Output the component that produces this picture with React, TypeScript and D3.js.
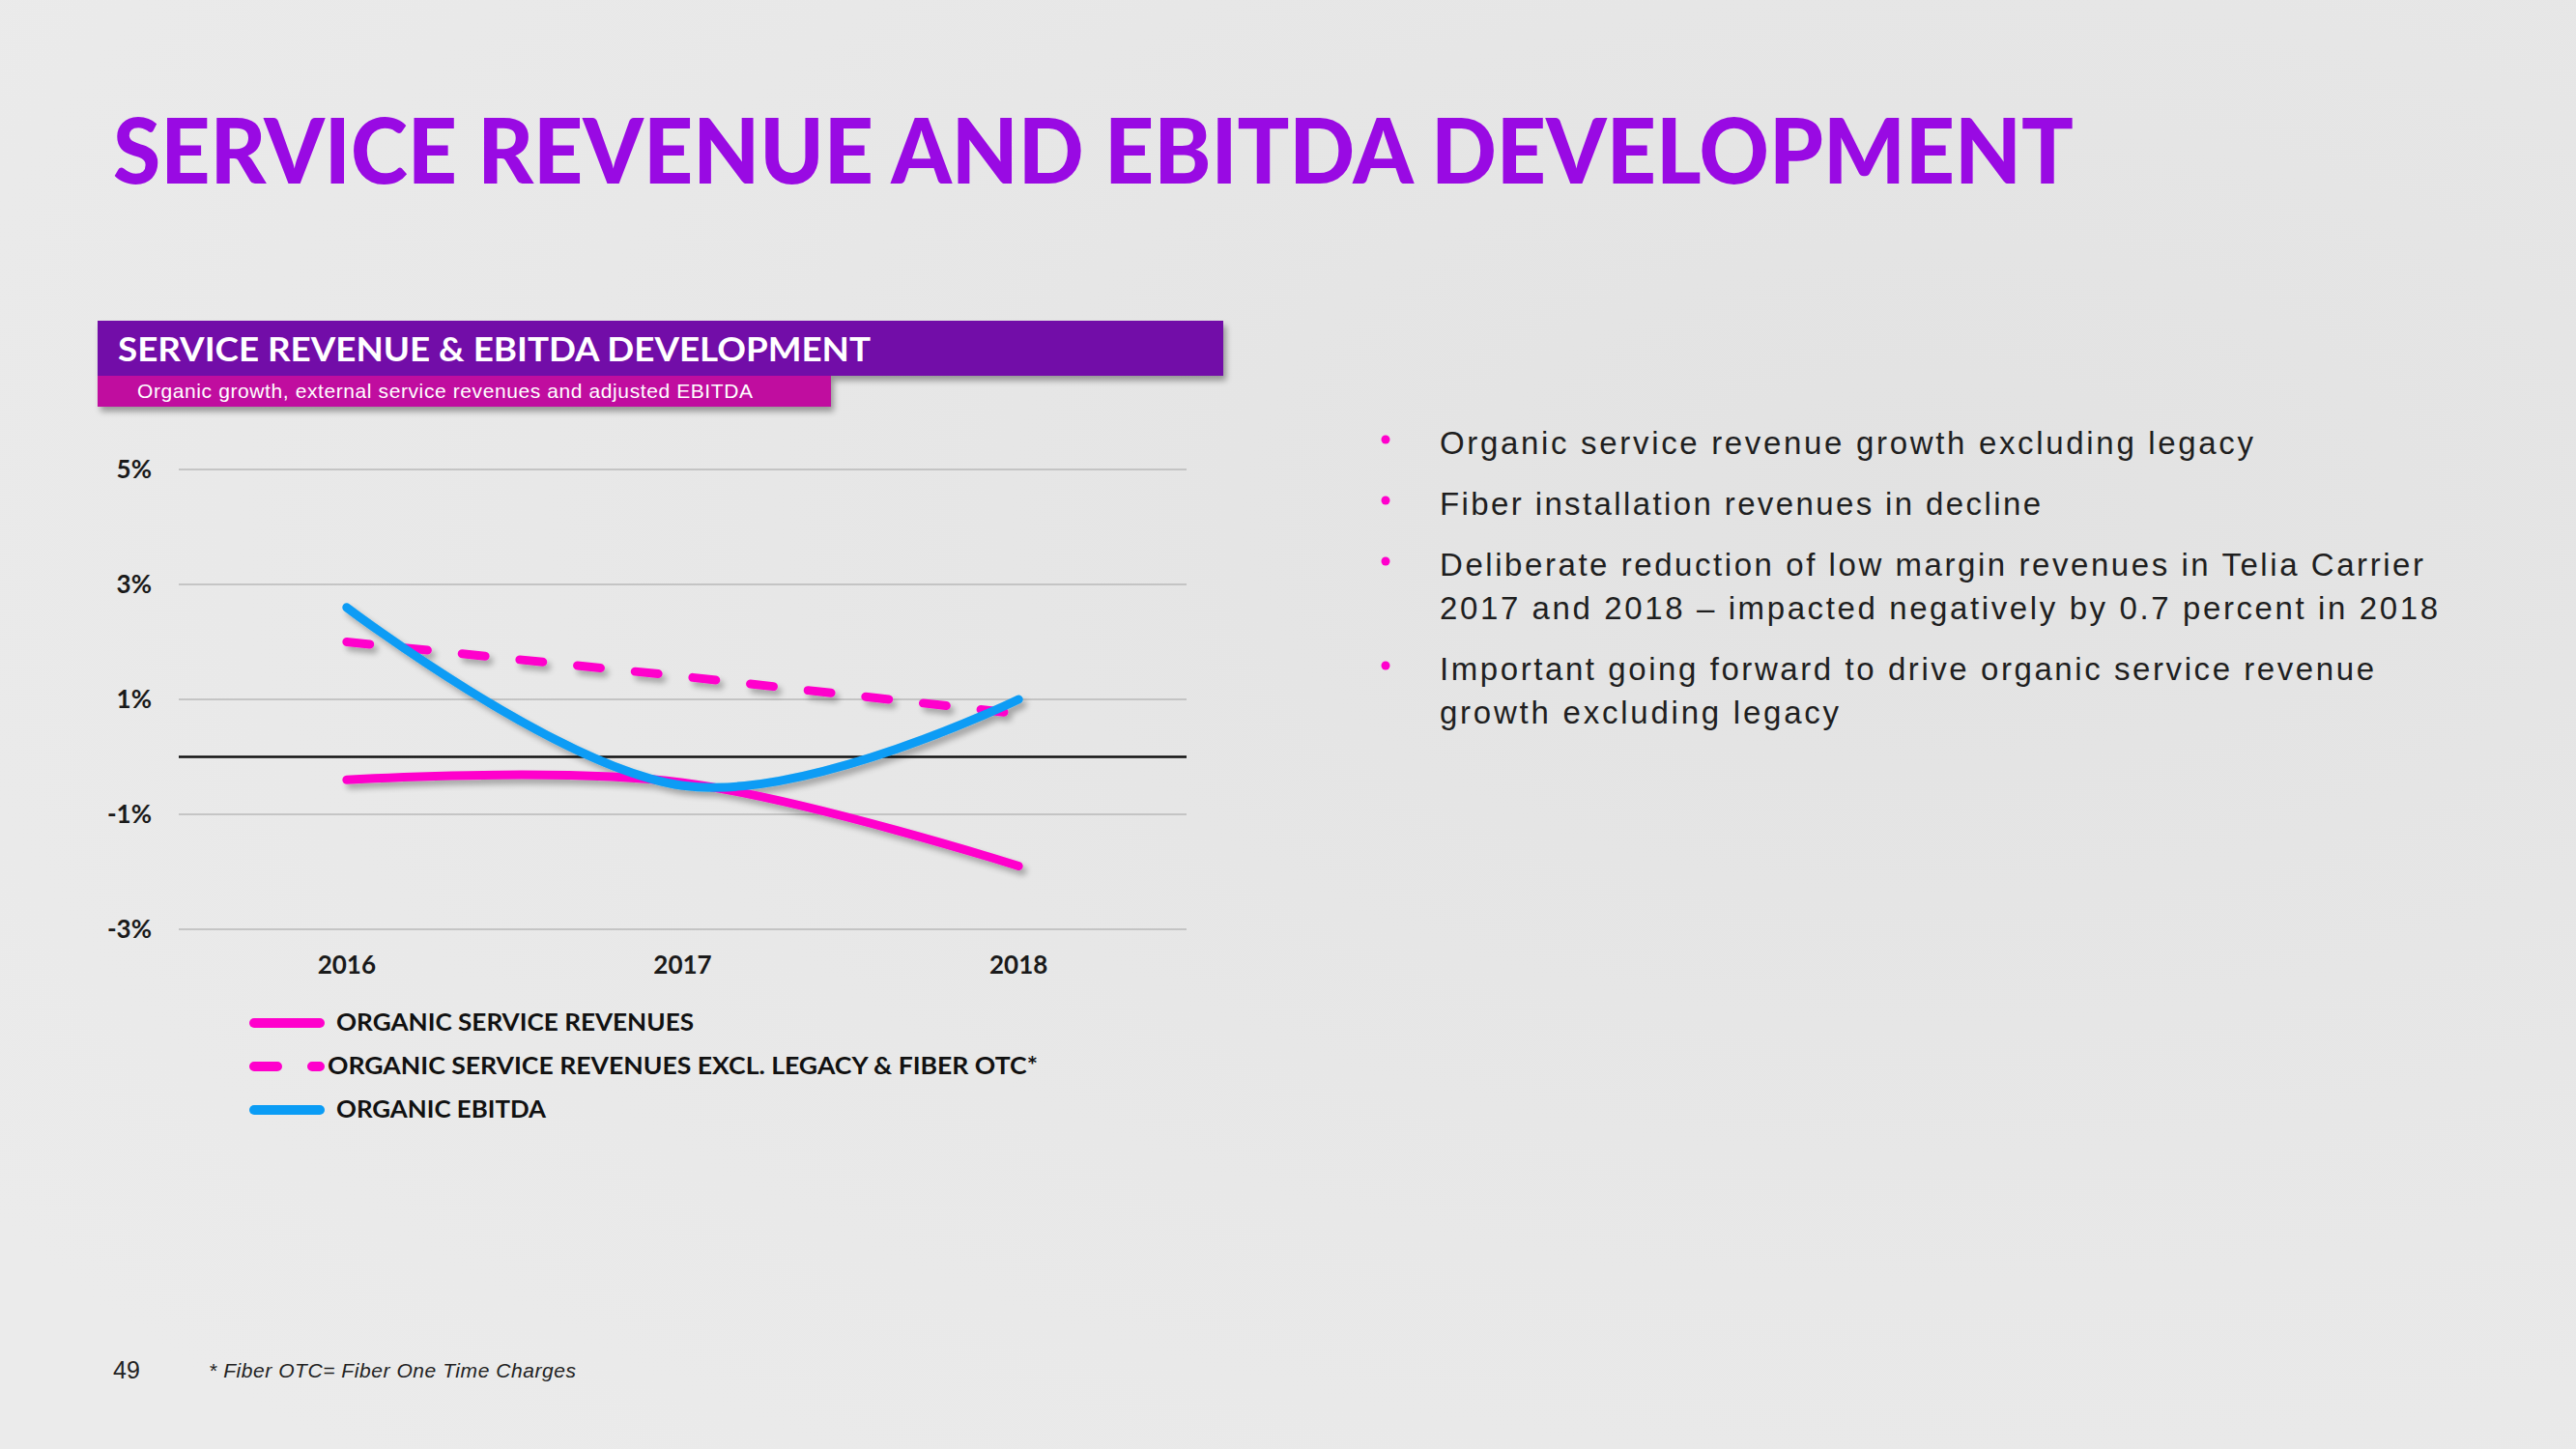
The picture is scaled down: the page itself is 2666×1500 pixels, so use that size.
import React from "react";
import * as d3 from "d3";

const W = 2666;
const H = 1500;

const years = ["2016", "2017", "2018"];
const organicServiceRevenues = [-0.4, -0.45, -1.9];
const organicExclLegacyFiber = [2.0, 1.4, 0.75];
const organicEbitda = [2.6, -0.5, 1.0];
const yTicks = [5, 3, 1, -1, -3];

const titleText = "SERVICE REVENUE AND EBITDA DEVELOPMENT";
const chartTitle = "SERVICE REVENUE & EBITDA DEVELOPMENT";
const chartSubtitle = "Organic growth, external service revenues and adjusted EBITDA";

const legendLabels = [
  "ORGANIC SERVICE REVENUES",
  "ORGANIC SERVICE REVENUES EXCL. LEGACY & FIBER OTC*",
  "ORGANIC EBITDA",
];

const bullets = [
  ["Organic service revenue growth excluding legacy"],
  ["Fiber installation revenues in decline"],
  [
    "Deliberate reduction of low margin revenues in Telia Carrier",
    "2017 and 2018 \u2013 impacted negatively by 0.7 percent in 2018",
  ],
  ["Important going forward to drive organic service revenue", "growth excluding legacy"],
];
const bulletWidths = [[842], [622], [1018, 1033], [967, 413]];

const pageNumber = "49";
const footnote = "* Fiber OTC= Fiber One Time Charges";

const MAGENTA = "#FF00CC";
const BLUE = "#0A9CF5";

export default function App() {
  const x = d3.scaleBand<string>().domain(years).range([185, 1228]).padding(0);
  const y = d3.scaleLinear().domain([-3, 5]).range([962, 486]);
  const cx = (d: string) => (x(d) as number) + x.bandwidth() / 2;

  const line = d3
    .line<number>()
    .x((_, i) => cx(years[i]))
    .y((v) => y(v))
    .curve(d3.curveCardinal.tension(-0.1));
  const straight = d3
    .line<number>()
    .x((_, i) => cx(years[i]))
    .y((v) => y(v));

  const series = [
    { values: organicServiceRevenues, color: MAGENTA, dash: undefined, gen: line },
    { values: organicExclLegacyFiber, color: MAGENTA, dash: "24 36", gen: straight },
    { values: organicEbitda, color: BLUE, dash: undefined, gen: line },
  ];

  const legendRows = [
    { label: legendLabels[0], color: MAGENTA, dash: undefined, y: 1059, tx: 348, w: 370 },
    { label: legendLabels[1], color: MAGENTA, dash: "24 36", y: 1104, tx: 339, w: 735 },
    { label: legendLabels[2], color: BLUE, dash: undefined, y: 1149, tx: 348, w: 217 },
  ];

  let bl = 470;
  const bulletLines: { text: string; y: number; w: number; first: boolean }[] = [];
  bullets.forEach((b, bi) => {
    b.forEach((t, li) => {
      bulletLines.push({ text: t, y: bl, w: bulletWidths[bi][li], first: li === 0 });
      bl += li < b.length - 1 ? 45 : 63;
    });
  });

  const sans = "Lato, 'Open Sans', 'Liberation Sans', sans-serif";
  const narrow = "'Liberation Sans Narrow', 'Liberation Sans', Arial, sans-serif";

  return (
    <svg
      width={W}
      height={H}
      viewBox={`0 0 ${W} ${H}`}
      style={{ position: "absolute", left: 0, top: 0, display: "block" }}
    >
      <defs>
        <radialGradient id="bg" cx="0.75" cy="0.35" r="0.9">
          <stop offset="0" stopColor="#e2e2e2" />
          <stop offset="0.6" stopColor="#e8e8e8" />
          <stop offset="1" stopColor="#ebebeb" />
        </radialGradient>
        <filter id="shadow" x="-10%" y="-20%" width="130%" height="160%">
          <feGaussianBlur in="SourceAlpha" stdDeviation="3" />
          <feOffset dx="4" dy="5" result="b" />
          <feComponentTransfer>
            <feFuncA type="linear" slope="0.3" />
          </feComponentTransfer>
          <feMerge>
            <feMergeNode />
            <feMergeNode in="SourceGraphic" />
          </feMerge>
        </filter>
        <filter id="barShadow" x="-5%" y="-20%" width="110%" height="160%">
          <feGaussianBlur in="SourceAlpha" stdDeviation="3" />
          <feOffset dx="3" dy="5" />
          <feComponentTransfer>
            <feFuncA type="linear" slope="0.35" />
          </feComponentTransfer>
          <feMerge>
            <feMergeNode />
            <feMergeNode in="SourceGraphic" />
          </feMerge>
        </filter>
      </defs>

      <rect x={0} y={0} width={W} height={H} fill="url(#bg)" />

      {/* Title */}
      <text
        x={117}
        y={190}
        fontFamily={sans}
        fontWeight={900}
        fontSize={93}
        fill="#990AE3"
        textLength={2029}
        lengthAdjust="spacingAndGlyphs"
      >
        {titleText}
      </text>

      {/* Chart header bars */}
      <g filter="url(#barShadow)">
        <rect x={101} y={332} width={1165} height={57} fill="#7209A8" />
        <rect x={101} y={389} width={759} height={32} fill="#C0089F" />
      </g>
      <text
        x={122}
        y={374}
        fontFamily={sans}
        fontWeight={700}
        fontSize={35}
        fill="#ffffff"
        textLength={779}
        lengthAdjust="spacingAndGlyphs"
      >
        {chartTitle}
      </text>
      <text
        x={142}
        y={412}
        fontFamily={narrow}
        fontSize={21}
        fill="#ffffff"
        textLength={637}
        lengthAdjust="spacing"
      >
        {chartSubtitle}
      </text>

      {/* Gridlines */}
      {yTicks.map((t) => (
        <line key={"g" + t} x1={185} x2={1228} y1={y(t)} y2={y(t)} stroke="#b9b9b9" strokeWidth={1.5} />
      ))}
      <line x1={185} x2={1228} y1={y(0)} y2={y(0)} stroke="#111" strokeWidth={2.5} />

      {/* Y tick labels */}
      {yTicks.map((t) => (
        <text
          key={"t" + t}
          x={157}
          y={y(t) + 9}
          textAnchor="end"
          fontFamily={sans}
          fontWeight={700}
          fontSize={26}
          fill="#1a1a1a"
        >
          {`${t}%`}
        </text>
      ))}

      {/* X labels */}
      {years.map((yr) => (
        <text
          key={yr}
          x={cx(yr)}
          y={1008}
          textAnchor="middle"
          fontFamily={sans}
          fontWeight={700}
          fontSize={26}
          fill="#1a1a1a"
        >
          {yr}
        </text>
      ))}

      {/* Series */}
      <g filter="url(#shadow)">
        {series.map((s, i) => (
          <path
            key={i}
            d={s.gen(s.values) || ""}
            fill="none"
            stroke={s.color}
            strokeWidth={9}
            strokeLinecap="round"
            strokeDasharray={s.dash}
          />
        ))}
      </g>

      {/* Legend */}
      {legendRows.map((r, i) => (
        <g key={"l" + i}>
          <line
            x1={263}
            x2={331}
            y1={r.y}
            y2={r.y}
            stroke={r.color}
            strokeWidth={10}
            strokeLinecap="round"
            strokeDasharray={r.dash}
          />
          <text
            x={r.tx}
            y={r.y + 8}
            fontFamily={sans}
            fontWeight={700}
            fontSize={24}
            fill="#111"
            textLength={r.w}
            lengthAdjust="spacingAndGlyphs"
          >
            {r.label}
          </text>
        </g>
      ))}

      {/* Bullets */}
      {bulletLines.map((b, i) => (
        <g key={"b" + i}>
          {b.first && <circle cx={1434} cy={b.y - 15} r={4.5} fill={MAGENTA} />}
          <text
            x={1490}
            y={b.y}
            fontFamily={narrow}
            fontSize={33}
            fill="#1f1f1f"
            textLength={b.w}
            lengthAdjust="spacing"
          >
            {b.text}
          </text>
        </g>
      ))}

      {/* Footer */}
      <text x={117} y={1427} fontFamily={narrow} fontSize={25} fill="#222" textLength={28} lengthAdjust="spacing">
        {pageNumber}
      </text>
      <text
        x={216}
        y={1426}
        fontFamily={narrow}
        fontStyle="italic"
        fontSize={21}
        fill="#222"
        textLength={380}
        lengthAdjust="spacing"
      >
        {footnote}
      </text>
    </svg>
  );
}
